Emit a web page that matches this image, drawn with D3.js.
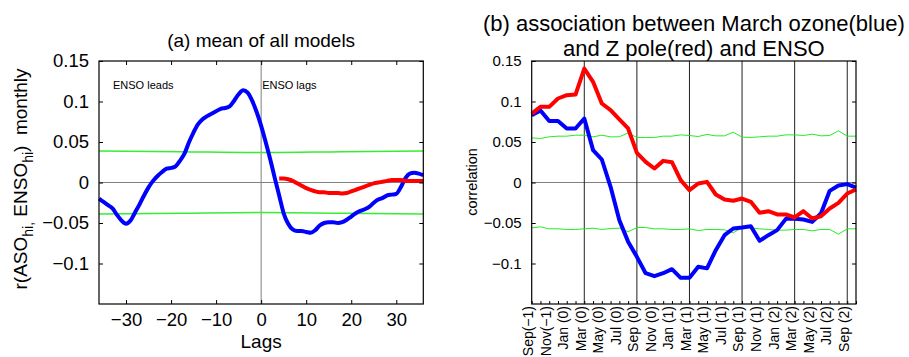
<!DOCTYPE html>
<html>
<head>
<meta charset="utf-8">
<script src="https://cdn.jsdelivr.net/npm/d3@7"></script>
<style>
  html, body { margin: 0; padding: 0; background: #fff; }
  svg { display: block; font-family: "Liberation Sans", Arial, Helvetica, sans-serif; }
</style>
</head>
<body>
<svg id="chart" width="909" height="357"></svg>
<script>
// ---------- Panel (a) data ----------
const lagsA = [-36,-35,-34,-33,-32,-31,-30,-29,-28,-27,-26,-25,-24,-23,-22,-21,-20,-19,-18,-17,-16,-15,-14,-13,-12,-11,-10,-9,-8,-7,-6,-5,-4,-3,-2,-1,0,1,2,3,4,5,6,7,8,9,10,11,12,13,14,15,16,17,18,19,20,21,22,23,24,25,26,27,28,29,30,31,32,33,34,35,36];
const blueA = [-0.020,-0.024,-0.028,-0.032,-0.040,-0.047,-0.051,-0.047,-0.037,-0.027,-0.016,-0.006,0.002,0.008,0.013,0.017,0.018,0.020,0.027,0.036,0.050,0.062,0.072,0.078,0.082,0.085,0.088,0.091,0.092,0.094,0.101,0.109,0.114,0.111,0.101,0.087,0.070,0.050,0.029,0.006,-0.016,-0.038,-0.051,-0.058,-0.060,-0.060,-0.061,-0.062,-0.059,-0.053,-0.050,-0.049,-0.049,-0.050,-0.049,-0.046,-0.042,-0.038,-0.035,-0.033,-0.030,-0.025,-0.021,-0.019,-0.016,-0.015,-0.014,-0.006,0.005,0.011,0.012,0.011,0.009];
const redLagsA = [4,5,6,7,8,9,10,11,12,13,14,15,16,17,18,19,20,21,22,23,24,25,26,27,28,29,30,31,32,33,34,35,36];
const redA = [0.005,0.005,0.004,0.002,-0.001,-0.004,-0.007,-0.009,-0.011,-0.012,-0.012,-0.013,-0.013,-0.013,-0.0135,-0.013,-0.011,-0.009,-0.007,-0.005,-0.003,-0.001,0.000,0.001,0.002,0.003,0.003,0.003,0.002,0.002,0.002,0.002,0.002];
const greenLagsA = [-36,-18,0,18,36];
const greenUpA = [0.039,0.038,0.037,0.038,0.039];
const greenLoA = [-0.039,-0.038,-0.037,-0.038,-0.039];
const xTicksA = [-30,-20,-10,0,10,20,30];
const yTicks = [-0.1,-0.05,0,0.05,0.1,0.15];
const yTickLabels = ["\u22120.1","\u22120.05","0","0.05","0.1","0.15"];

// ---------- Panel (b) data ----------
const monthsB = ["Sep(-1)","Oct(-1)","Nov(-1)","Dec(-1)","Jan(0)","Feb(0)","Mar(0)","Apr(0)","May(0)","Jun(0)","Jul(0)","Aug(0)","Sep(0)","Oct(0)","Nov(0)","Dec(0)","Jan(1)","Feb(1)","Mar(1)","Apr(1)","May(1)","Jun(1)","Jul(1)","Aug(1)","Sep(1)","Oct(1)","Nov(1)","Dec(1)","Jan(2)","Feb(2)","Mar(2)","Apr(2)","May(2)","Jun(2)","Jul(2)","Aug(2)","Sep(2)","Oct(2)"];
const xTickLabelsB = ["Sep(\u22121)","Nov(\u22121)","Jan (0)","Mar (0)","May (0)","Jul (0)","Sep (0)","Nov (0)","Jan (1)","Mar (1)","May (1)","Jul (1)","Sep (1)","Nov (1)","Jan (2)","Mar (2)","May (2)","Jul (2)","Sep (2)"];
const vLinesB = ["Mar(0)","Sep(0)","Mar(1)","Sep(1)","Mar(2)","Sep(2)"];
const blueB = [0.083,0.089,0.076,0.076,0.0667,0.0667,0.079,0.040,0.0284,-0.0053,-0.0465,-0.073,-0.0918,-0.112,-0.1156,-0.112,-0.107,-0.1177,-0.1177,-0.104,-0.106,-0.0835,-0.065,-0.0568,-0.0556,-0.054,-0.072,-0.065,-0.0588,-0.0449,-0.0449,-0.0457,-0.0486,-0.0383,-0.0103,-0.0037,-0.002,-0.0062];
const redB = [0.085,0.0934,0.0934,0.1037,0.1078,0.1086,0.1407,0.1243,0.0975,0.0893,0.0778,0.0667,0.0366,0.0255,0.0173,0.0267,0.0251,0.0029,-0.0095,-0.0012,0.0008,-0.0148,-0.021,-0.0226,-0.0198,-0.0239,-0.0374,-0.0354,-0.0395,-0.0395,-0.0432,-0.0354,-0.0444,-0.0416,-0.0321,-0.0251,-0.0136,-0.0086];
const greenUpB = [0.0551,0.0543,0.0564,0.0572,0.0572,0.0584,0.0584,0.0564,0.0584,0.0564,0.0564,0.0613,0.0556,0.0556,0.0556,0.0572,0.0572,0.0588,0.058,0.0568,0.0593,0.0576,0.0576,0.0621,0.056,0.0556,0.0564,0.0572,0.0572,0.0588,0.0588,0.058,0.0597,0.0576,0.058,0.0638,0.0572,0.0572];
const greenLoB = [-0.056,-0.0547,-0.0572,-0.0572,-0.058,-0.058,-0.0572,-0.0564,-0.058,-0.0568,-0.0564,-0.0609,-0.0556,-0.0556,-0.0572,-0.0572,-0.058,-0.058,-0.0572,-0.0593,-0.058,-0.058,-0.0584,-0.0621,-0.0556,-0.056,-0.0572,-0.058,-0.0588,-0.0588,-0.058,-0.058,-0.0597,-0.058,-0.058,-0.0638,-0.0572,-0.0572];

const FONT = '"Liberation Sans", Arial, Helvetica, sans-serif';
const svg = d3.select("#chart");

// ================= Panel (a) =================
const A = {l: 99, r: 423.3, t: 61, b: 304};
const xA = d3.scaleLinear().domain([-36, 36]).range([A.l, A.r]);
const yA = d3.scaleLinear().domain([-0.15, 0.15]).range([A.b, A.t]);
const gA = svg.append("g");

// zero lines
gA.append("line").attr("x1", A.l).attr("x2", A.r).attr("y1", yA(0)).attr("y2", yA(0))
  .attr("stroke", "#808080").attr("stroke-width", 1);
gA.append("line").attr("x1", xA(0)).attr("x2", xA(0)).attr("y1", A.t).attr("y2", A.b)
  .attr("stroke", "#808080").attr("stroke-width", 1);

// green significance lines
const lineGA = d3.line().x((d, i) => xA(greenLagsA[i])).y(d => yA(d)).curve(d3.curveMonotoneX);
gA.append("path").attr("d", lineGA(greenUpA)).attr("fill", "none").attr("stroke", "#33ee33").attr("stroke-width", 1.5);
gA.append("path").attr("d", lineGA(greenLoA)).attr("fill", "none").attr("stroke", "#33ee33").attr("stroke-width", 1.5);

// series
const lineBA = d3.line().x((d, i) => xA(lagsA[i])).y(d => yA(d)).curve(d3.curveMonotoneX);
gA.append("path").attr("d", lineBA(blueA)).attr("fill", "none").attr("stroke", "#0000ff")
  .attr("stroke-width", 4).attr("stroke-linejoin", "round");
const lineRA = d3.line().x((d, i) => xA(redLagsA[i])).y(d => yA(d)).curve(d3.curveMonotoneX);
gA.append("path").attr("d", lineRA(redA)).attr("fill", "none").attr("stroke", "#ff0000")
  .attr("stroke-width", 4).attr("stroke-linejoin", "round");

// axes (inward ticks on all sides)
const axBA = gA.append("g").attr("transform", `translate(0,${A.b})`)
  .call(d3.axisBottom(xA).tickValues(xTicksA).tickSize(-4).tickPadding(9)
    .tickFormat(d => d < 0 ? "\u2212" + Math.abs(d) : String(d)));
const axTA = gA.append("g").attr("transform", `translate(0,${A.t})`)
  .call(d3.axisTop(xA).tickValues(xTicksA).tickSize(-4).tickFormat(""));
const axLA = gA.append("g").attr("transform", `translate(${A.l},0)`)
  .call(d3.axisLeft(yA).tickValues(yTicks).tickSize(-4).tickPadding(10)
    .tickFormat((d, i) => yTickLabels[i]));
const axRA = gA.append("g").attr("transform", `translate(${A.r},0)`)
  .call(d3.axisRight(yA).tickValues(yTicks).tickSize(-4).tickFormat(""));
[axBA, axTA, axLA, axRA].forEach(g => {
  g.select(".domain").remove();
  g.selectAll(".tick line").attr("stroke", "#000");
  g.selectAll("text").attr("fill", "#000").style("font-family", FONT).style("font-size", "18.5px");
});
gA.append("rect").attr("x", A.l).attr("y", A.t).attr("width", A.r - A.l).attr("height", A.b - A.t)
  .attr("fill", "none").attr("stroke", "#000").attr("stroke-width", 1.2);

// texts
gA.append("text").attr("x", (A.l + A.r) / 2).attr("y", 47).attr("text-anchor", "middle")
  .style("font-size", "19px").text("(a) mean of all models");
gA.append("text").attr("x", xA(0)).attr("y", 348).attr("text-anchor", "middle")
  .style("font-size", "19px").text("Lags");
gA.append("text").attr("x", 113).attr("y", 89).style("font-size", "11px").text("ENSO leads");
gA.append("text").attr("x", xA(0) + 1).attr("y", 89).style("font-size", "11px").text("ENSO lags");
const yl = gA.append("text").attr("transform", "translate(27,179) rotate(-90)")
  .attr("text-anchor", "middle").style("font-size", "19px").style("white-space", "pre");
yl.append("tspan").text("r(ASO");
yl.append("tspan").attr("dy", 6).style("font-size", "14px").text("hi,");
yl.append("tspan").attr("dy", -6).text(" ENSO");
yl.append("tspan").attr("dy", 6).style("font-size", "14px").text("hi");
yl.append("tspan").attr("dy", -6).text(")\u00a0\u00a0monthly");

// ================= Panel (b) =================
const B = {l: 531.7, r: 856, t: 61, b: 304};
const idx = monthsB.map((m, i) => i);
const xB = d3.scaleLinear().domain([0, monthsB.length - 1]).range([B.l, B.r]);
const yB = d3.scaleLinear().domain([-0.15, 0.15]).range([B.b, B.t]);
const gB = svg.append("g");

gB.append("line").attr("x1", B.l).attr("x2", B.r).attr("y1", yB(0)).attr("y2", yB(0))
  .attr("stroke", "#808080").attr("stroke-width", 1);
vLinesB.forEach(m => {
  const xv = xB(monthsB.indexOf(m));
  gB.append("line").attr("x1", xv).attr("x2", xv).attr("y1", B.t).attr("y2", B.b)
    .attr("stroke", "#222").attr("stroke-width", 1);
});

const lineB = d3.line().x((d, i) => xB(idx[i])).y(d => yB(d));
gB.append("path").attr("d", lineB(greenUpB)).attr("fill", "none").attr("stroke", "#22ee22").attr("stroke-width", 1);
gB.append("path").attr("d", lineB(greenLoB)).attr("fill", "none").attr("stroke", "#22ee22").attr("stroke-width", 1);
gB.append("path").attr("d", lineB(blueB)).attr("fill", "none").attr("stroke", "#0000ff")
  .attr("stroke-width", 4).attr("stroke-linejoin", "round");
gB.append("path").attr("d", lineB(redB)).attr("fill", "none").attr("stroke", "#ff0000")
  .attr("stroke-width", 4).attr("stroke-linejoin", "round");

// axes
const axBB = gB.append("g").attr("transform", `translate(0,${B.b})`)
  .call(d3.axisBottom(xB).tickValues(idx).tickSize(-3).tickFormat(""));
const axLB = gB.append("g").attr("transform", `translate(${B.l},0)`)
  .call(d3.axisLeft(yB).tickValues(yTicks).tickSize(-4).tickPadding(10)
    .tickFormat((d, i) => yTickLabels[i]));
const axRB = gB.append("g").attr("transform", `translate(${B.r},0)`)
  .call(d3.axisRight(yB).tickValues(yTicks).tickSize(-4).tickFormat(""));
[axBB, axLB, axRB].forEach(g => {
  g.select(".domain").remove();
  g.selectAll(".tick line").attr("stroke", "#000");
  g.selectAll("text").attr("fill", "#000").style("font-family", FONT).style("font-size", "15px");
});
gB.append("rect").attr("x", B.l).attr("y", B.t).attr("width", B.r - B.l).attr("height", B.b - B.t)
  .attr("fill", "none").attr("stroke", "#000").attr("stroke-width", 1.2);

// rotated month labels
gB.selectAll(".mlab").data(xTickLabelsB).join("text")
  .attr("class", "mlab")
  .attr("transform", (d, i) => `translate(${xB(i * 2) - 3.5},306) rotate(-90)`)
  .attr("text-anchor", "end").attr("dy", "0.35em")
  .style("font-size", "14px").text(d => d);

gB.append("text").attr("x", (B.l + B.r) / 2).attr("y", 31).attr("text-anchor", "middle")
  .style("font-size", "22px").text("(b) association between March ozone(blue)");
gB.append("text").attr("x", (B.l + B.r) / 2).attr("y", 56).attr("text-anchor", "middle")
  .style("font-size", "22px").text("and Z pole(red) and ENSO");
gB.append("text").attr("transform", "translate(477,182) rotate(-90)").attr("text-anchor", "middle")
  .style("font-size", "14.5px").text("correlation");
</script>
</body>
</html>
